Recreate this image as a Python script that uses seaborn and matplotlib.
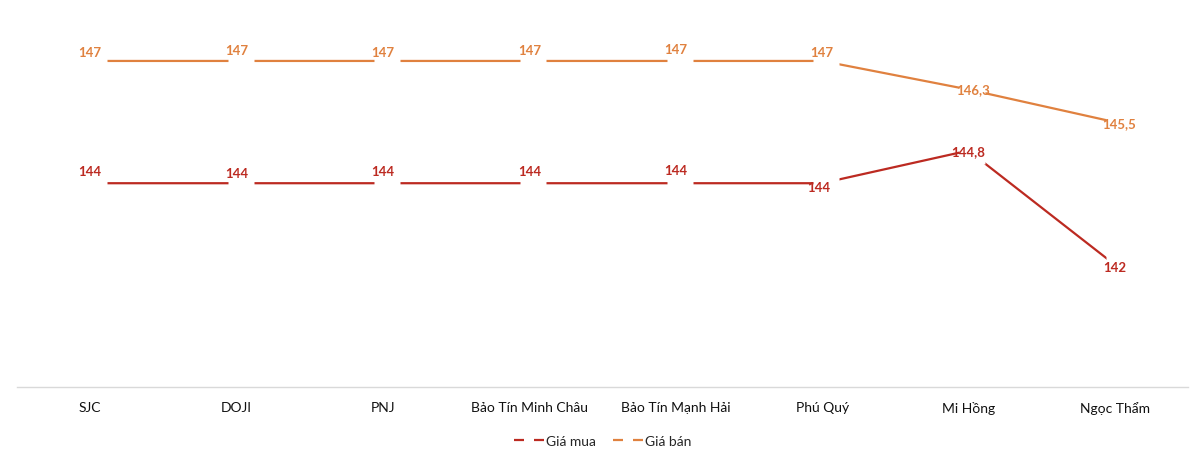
import pandas as pd
import matplotlib.pyplot as plt
import seaborn as sns
from matplotlib.lines import Line2D
from matplotlib.transforms import ScaledTranslation

# Chart data
stores = ["SJC", "DOJI", "PNJ", "Bảo Tín Minh Châu", "Bảo Tín Mạnh Hải",
          "Phú Quý", "Mi Hồng", "Ngọc Thẩm"]
buy_price = [144, 144, 144, 144, 144, 144, 144.8, 142]
sell_price = [147, 147, 147, 147, 147, 147, 146.3, 145.5]
series_names = ["Giá mua", "Giá bán"]

colors = {"Giá mua": "#BC2A21", "Giá bán": "#E0813F"}

# label offsets in pixels (dx, dy) relative to each point
buy_offsets = [(0, 12), (0, 10), (0, 12), (0, 12), (0, 13), (-3, -4), (0, 0), (0, -2)]
sell_offsets = [(0, 9), (0, 11), (0, 9), (0, 11), (0, 12), (0, 9), (5, 0), (4, -1)]


def fmt(v):
    s = f"{v:g}"
    return s.replace(".", ",")


df = pd.DataFrame({
    "store": stores * 2,
    "price": buy_price + sell_price,
    "series": [series_names[0]] * len(stores) + [series_names[1]] * len(stores),
})

sns.set_style("white")
plt.rcParams["font.family"] = ["Lato", "DejaVu Sans"]

fig = plt.figure(figsize=(12, 4.56), dpi=100)
ax = fig.add_axes([17 / 1200, 1 - 388 / 456, 1171 / 1200, 388 / 456])

sns.lineplot(data=df, x="store", y="price", hue="series", palette=colors,
             linewidth=1.6, sort=False, ax=ax, legend=False)

# white gaps in the lines around each data point (like the label boxes in Excel)
shift = ax.transData + ScaledTranslation(4 / 100, 0, fig.dpi_scale_trans)
for vals in [sell_price, buy_price]:
    ax.plot(range(len(stores)), vals, linestyle="none", marker="s",
            markersize=19, markerfacecolor="white", markeredgecolor="none",
            transform=shift, zorder=4)

for vals, offs, name in [(sell_price, sell_offsets, "Giá bán"),
                         (buy_price, buy_offsets, "Giá mua")]:
    for i, (v, (dx, dy)) in enumerate(zip(vals, offs)):
        ax.annotate(fmt(v), (i, v), xytext=(dx * 0.72, dy * 0.72),
                    textcoords="offset points", ha="center", va="center",
                    fontsize=9.5, fontweight="bold", color=colors[name],
                    zorder=5)

ax.set_xlim(-0.5, len(stores) - 0.5)
ax.set_ylim(139, 148.52)
ax.set_xlabel("")
ax.set_ylabel("")
ax.set_yticks([])
ax.tick_params(axis="x", length=0, pad=10, labelsize=10, colors="#111111")
for side in ["top", "left", "right"]:
    ax.spines[side].set_visible(False)
ax.spines["bottom"].set_color("#D9D9D9")
ax.spines["bottom"].set_linewidth(1.0)

handles = [Line2D([0], [0], color=colors[n], lw=1.6, linestyle=(0, (4.5, 4.5)))
           for n in series_names]
ax.legend(handles, series_names, loc="center", bbox_to_anchor=(0.5, -0.14),
          ncol=2, frameon=False, fontsize=10, handlelength=2.2,
          handletextpad=0.1, columnspacing=1.2)

fig.savefig("out.png", dpi=100)
